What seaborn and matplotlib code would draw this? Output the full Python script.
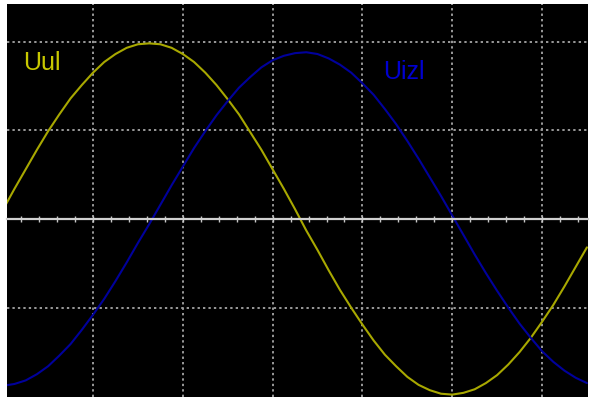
import pandas as pd
import seaborn as sns
import matplotlib.pyplot as plt
from matplotlib.ticker import MultipleLocator

# time axis in screen divisions, values in divisions
time_div = [-1.0, -0.875, -0.75, -0.625, -0.5, -0.375, -0.25, -0.125, 0.0, 0.125,
            0.25, 0.375, 0.5, 0.625, 0.75, 0.875, 1.0, 1.125, 1.25, 1.375,
            1.5, 1.625, 1.75, 1.875, 2.0, 2.125, 2.25, 2.375, 2.5, 2.625,
            2.75, 2.875, 3.0, 3.125, 3.25, 3.375, 3.5, 3.625, 3.75, 3.875,
            4.0, 4.125, 4.25, 4.375, 4.5, 4.625, 4.75, 4.875, 5.0, 5.125,
            5.25, 5.375, 5.5]
uul = [0.11, 0.34, 0.56, 0.78, 0.99, 1.18, 1.36, 1.51, 1.65, 1.77,
       1.86, 1.93, 1.97, 1.98, 1.97, 1.93, 1.86, 1.77, 1.65, 1.51,
       1.35, 1.18, 0.98, 0.78, 0.56, 0.34, 0.11, -0.13, -0.35, -0.58,
       -0.80, -1.00, -1.19, -1.37, -1.53, -1.66, -1.78, -1.87, -1.93, -1.97,
       -1.98, -1.96, -1.92, -1.85, -1.76, -1.64, -1.50, -1.34, -1.16, -0.97,
       -0.76, -0.54, -0.32]
uizl = [-1.88, -1.86, -1.82, -1.75, -1.66, -1.54, -1.41, -1.25, -1.08, -0.90,
        -0.70, -0.49, -0.27, -0.06, 0.16, 0.38, 0.59, 0.80, 0.99, 1.17,
        1.33, 1.48, 1.60, 1.71, 1.79, 1.84, 1.87, 1.88, 1.86, 1.81,
        1.74, 1.65, 1.53, 1.40, 1.24, 1.07, 0.88, 0.68, 0.47, 0.26,
        0.04, -0.18, -0.40, -0.61, -0.81, -1.00, -1.18, -1.34, -1.49, -1.61,
        -1.71, -1.79, -1.85]
signal_names = ["Uul", "Uizl"]
line_colors = {"Uul": "#a8a800", "Uizl": "#00009c"}
label_colors = {"Uul": "#c8c800", "Uizl": "#0000d0"}

df = pd.concat([
    pd.DataFrame({"t": time_div, "u": uul, "signal": "Uul"}),
    pd.DataFrame({"t": time_div, "u": uizl, "signal": "Uizl"}),
])

sns.set_style("white")
plt.rcParams["font.family"] = ["Liberation Sans", "DejaVu Sans"]

fig = plt.figure(figsize=(5.9, 3.97), dpi=100, facecolor="white")
ax = fig.add_axes([7 / 590, 0, 581 / 590, 393 / 397])
ax.set_facecolor("black")

sns.lineplot(data=df, x="t", y="u", hue="signal", hue_order=signal_names,
             palette=line_colors, linewidth=1.5, sort=False, legend=False, ax=ax)

ax.set_xlim(-0.958, 5.512)
ax.set_ylim(-2.007, 2.424)

# dotted scope graticule
ax.xaxis.set_major_locator(MultipleLocator(1))
ax.set_yticks([-1, 1, 2])
ax.grid(True, which="major", color="#9a9a9a", linestyle=(0, (1.2, 1.6)), linewidth=1.4)
ax.set_axisbelow(True)

# centre axis with small ticks
for side in ["left", "top", "right"]:
    ax.spines[side].set_visible(False)
ax.spines["bottom"].set_position(("data", 0))
ax.spines["bottom"].set_color("#d0d0d0")
ax.spines["bottom"].set_linewidth(1.6)
ax.xaxis.set_minor_locator(MultipleLocator(0.2))
ax.tick_params(axis="x", which="both", bottom=True, direction="inout", length=4.5,
               width=1.0, color="#c8c8c8", labelbottom=False)
ax.tick_params(axis="y", left=False, labelleft=False)
ax.set_xlabel("")
ax.set_ylabel("")

ax.text(-0.78, 1.76, "Uul", color=label_colors["Uul"], fontsize=18, va="center", ha="left")
ax.text(3.23, 1.66, "Uizl", color=label_colors["Uizl"], fontsize=18, va="center", ha="left")

fig.savefig("out.png", dpi=100, facecolor="white")
